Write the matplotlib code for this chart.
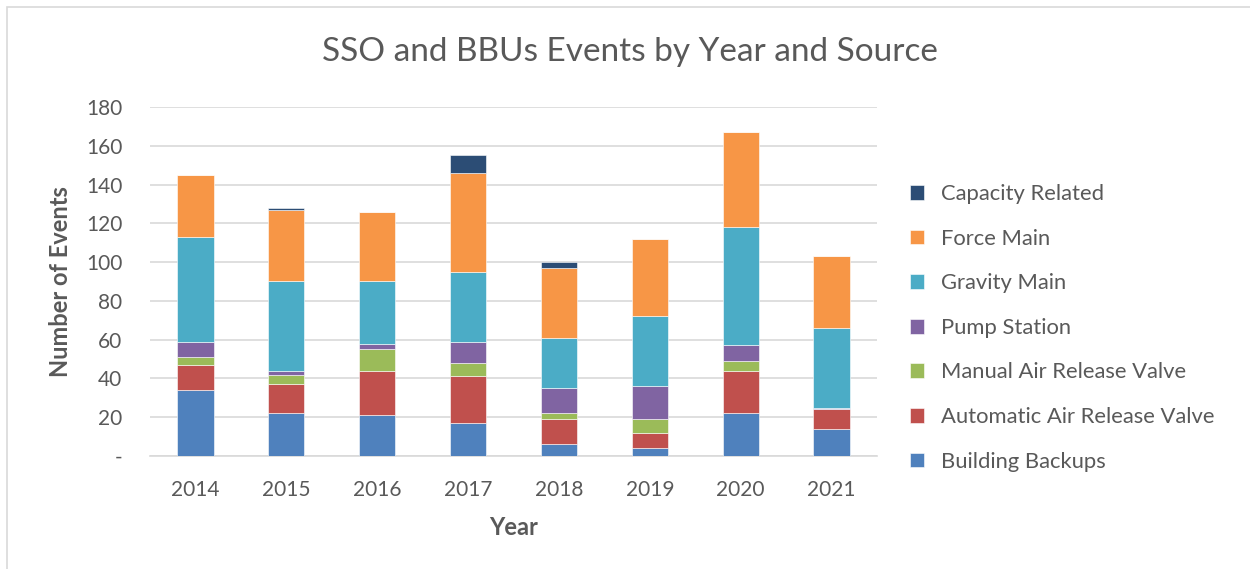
import matplotlib.pyplot as plt
import matplotlib.patches as mpatches
import numpy as np

plt.rcParams['font.family'] = ['Lato', 'DejaVu Sans']

years = ['2014', '2015', '2016', '2017', '2018', '2019', '2020', '2021']

building_backups = [34, 22, 21, 17, 6, 4, 22, 14]
auto_arv = [13, 15, 23, 24, 13, 8, 22, 10]
manual_arv = [4, 5, 11, 7, 3, 7, 5, 0]
pump_station = [8, 2, 3, 11, 13, 17, 8, 1]
gravity_main = [54, 46, 32, 36, 26, 36, 61, 41]
force_main = [32, 37, 36, 51, 36, 40, 49, 37]
capacity_related = [0, 1, 0, 9, 3, 0, 0, 0]

series = [
    ('Building Backups', building_backups, '#4F81BD'),
    ('Automatic Air Release Valve', auto_arv, '#C0504D'),
    ('Manual Air Release Valve', manual_arv, '#9BBB59'),
    ('Pump Station', pump_station, '#8064A2'),
    ('Gravity Main', gravity_main, '#4BACC6'),
    ('Force Main', force_main, '#F79646'),
    ('Capacity Related', capacity_related, '#2C4D75'),
]

fig = plt.figure(figsize=(12.5, 5.69), dpi=100)
ax = fig.add_axes([0.12, 0.1986, 0.5816, 0.6134])

# chart border like the Excel chart area
fig.patches.append(mpatches.Rectangle((7 / 1250, -0.01), 1.1, 1 - 7 / 569 + 0.01,
                                      transform=fig.transFigure, fill=False,
                                      edgecolor='#d9d9d9', lw=1.2))

x = np.arange(len(years))
bottom = np.zeros(len(years))
handles = []
for name, vals, color in series:
    b = ax.bar(x, vals, 0.4, bottom=bottom, color=color, edgecolor='white',
               linewidth=0.4, zorder=3, label=name)
    bottom += np.array(vals)
    handles.append(b)

ax.set_xlim(-0.5, 7.5)
ax.set_ylim(0, 180)
ax.set_yticks(range(0, 181, 20))
ax.set_yticklabels(['-'] + [str(v) for v in range(20, 181, 20)])
ax.set_xticks(x)
ax.set_xticklabels(years)
ax.yaxis.grid(True, color='#d9d9d9', linewidth=1.2, zorder=0)
for s in ['top', 'right', 'left']:
    ax.spines[s].set_visible(False)
ax.spines['bottom'].set_color('#d9d9d9')
ax.spines['bottom'].set_linewidth(1.2)
ax.tick_params(axis='both', length=0, labelsize=15, colors='#595959')
ax.tick_params(axis='x', pad=17)
ax.tick_params(axis='y', pad=20)

ax.set_ylabel('Number of Events', fontsize=17, fontweight='bold', color='#595959', labelpad=10)
ax.set_xlabel('Year', fontsize=17, fontweight='bold', color='#595959', labelpad=12)
fig.text(0.504, 0.9086, 'SSO and BBUs Events by Year and Source', ha='center', va='center',
         fontsize=24, color='#595959')

leg = ax.legend(handles[::-1], [s[0] for s in series[::-1]], loc='center left',
                bbox_to_anchor=(1.018, 0.367), frameon=False, fontsize=15.8,
                labelcolor='#595959', handlelength=0.65, handleheight=0.65,
                labelspacing=1.12, handletextpad=0.75)

plt.savefig('out.png', dpi=100)
